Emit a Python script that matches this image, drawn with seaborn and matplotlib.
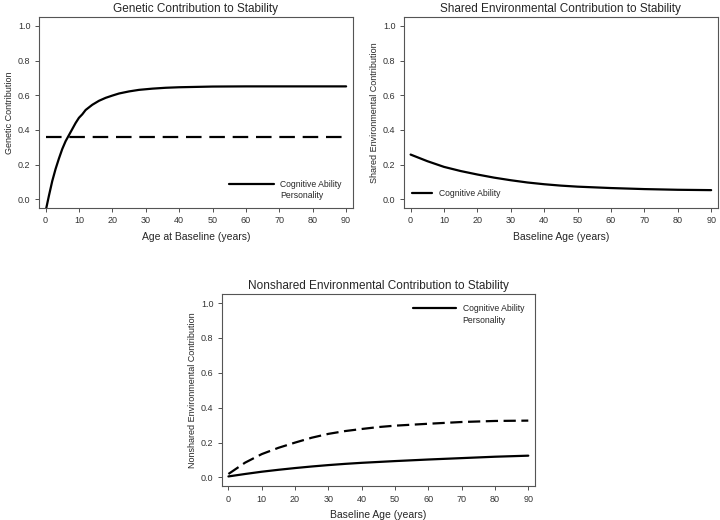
import matplotlib
matplotlib.use("Agg")
import matplotlib.pyplot as plt
import seaborn as sns
from matplotlib.lines import Line2D

# Valors llegits de la figura
edat_gen = [0, 1, 2, 3, 4, 5, 6, 7, 8, 9, 10, 11, 12, 13, 14, 16, 18, 20, 22, 25, 28, 32,
            36, 40, 45, 50, 60, 70, 80, 90]
gen_cognitiu = [-0.07, 0.02, 0.105, 0.175, 0.235, 0.29, 0.335, 0.37, 0.405, 0.44, 0.47, 0.49,
                0.515, 0.53, 0.545, 0.568, 0.585, 0.598, 0.61, 0.622, 0.631, 0.638, 0.643,
                0.646, 0.648, 0.65, 0.651, 0.651, 0.651, 0.651]
gen_personalitat = [0.36] * len(edat_gen)

edat_comp = [0, 5, 10, 15, 20, 25, 30, 35, 40, 45, 50, 60, 70, 80, 90]
comp_cognitiu = [0.258, 0.22, 0.187, 0.163, 0.143, 0.125, 0.11, 0.097, 0.087, 0.079, 0.073,
                 0.065, 0.059, 0.055, 0.053]

edat_nocomp = [0, 5, 10, 15, 20, 25, 30, 35, 40, 45, 50, 60, 70, 80, 90]
nocomp_cognitiu = [0.006, 0.02, 0.033, 0.044, 0.054, 0.063, 0.071, 0.078, 0.084, 0.089, 0.094,
                   0.103, 0.111, 0.119, 0.125]
nocomp_personalitat = [0.02, 0.085, 0.134, 0.17, 0.2, 0.228, 0.25, 0.266, 0.278, 0.289, 0.297,
                       0.308, 0.318, 0.324, 0.326]

titols = ["Genetic Contribution to Stability",
          "Shared Environmental Contribution to Stability",
          "Nonshared Environmental Contribution to Stability"]
etiquetes_y = ["Genetic Contribution", "Shared Environmental Contribution",
               "Nonshared Environmental Contribution"]
etiquetes_x = ["Age at Baseline (years)", "Baseline Age (years)", "Baseline Age (years)"]

sns.set_style("ticks")
plt.rcParams['font.family'] = ['Liberation Sans', 'DejaVu Sans']

fig = plt.figure(figsize=(7.2, 5.2), dpi=100)
ax1 = fig.add_axes([0.054, 0.600, 0.436, 0.367])
ax2 = fig.add_axes([0.561, 0.600, 0.436, 0.367])
ax3 = fig.add_axes([0.308, 0.065, 0.435, 0.369])

LW = 1.6
sns.lineplot(x=edat_gen, y=gen_cognitiu, ax=ax1, color="black", lw=LW)
sns.lineplot(x=edat_gen, y=gen_personalitat, ax=ax1, color="black", lw=LW)
ax1.lines[-1].set_dashes([7, 3.5])

sns.lineplot(x=edat_comp, y=comp_cognitiu, ax=ax2, color="black", lw=LW)

sns.lineplot(x=edat_nocomp, y=nocomp_cognitiu, ax=ax3, color="black", lw=LW)
sns.lineplot(x=edat_nocomp, y=nocomp_personalitat, ax=ax3, color="black", lw=LW)
ax3.lines[-1].set_dashes([5.5, 2.5])

for i, ax in enumerate([ax1, ax2, ax3]):
    ax.set_xlim(-2, 92)
    ax.set_ylim(-0.05, 1.05)
    ax.set_xticks(range(0, 91, 10))
    ax.set_yticks([0, 0.2, 0.4, 0.6, 0.8, 1.0])
    ax.set_yticklabels(["0.0", "0.2", "0.4", "0.6", "0.8", "1.0"])
    ax.tick_params(labelsize=6.5, length=3, width=0.6, colors="#333333", pad=3)
    for s in ax.spines.values():
        s.set_color("#555555")
        s.set_linewidth(0.8)
    ax.set_title(titols[i], fontsize=8.5, pad=4)
    ax.set_ylabel(etiquetes_y[i], fontsize=6.5, labelpad=3)
    ax.set_xlabel(etiquetes_x[i], fontsize=7.5, labelpad=5)

linia = Line2D([], [], color="black", lw=LW)
buida = Line2D([], [], color="none", lw=0)

ax1.legend([linia, buida], ["Cognitive Ability", "Personality"], loc="lower right",
           frameon=False, fontsize=6.2, handlelength=5.2, labelspacing=0.3,
           bbox_to_anchor=(0.99, 0.0))
ax2.legend([linia], ["Cognitive Ability"], loc="lower left", frameon=False,
           fontsize=6.2, handlelength=2.4, bbox_to_anchor=(0.0, 0.01))
ax3.legend([linia, buida], ["Cognitive Ability", "Personality"], loc="upper right",
           frameon=False, fontsize=6.2, handlelength=5.0, labelspacing=0.3,
           bbox_to_anchor=(0.99, 0.99))

fig.savefig("out.png", dpi=100)
